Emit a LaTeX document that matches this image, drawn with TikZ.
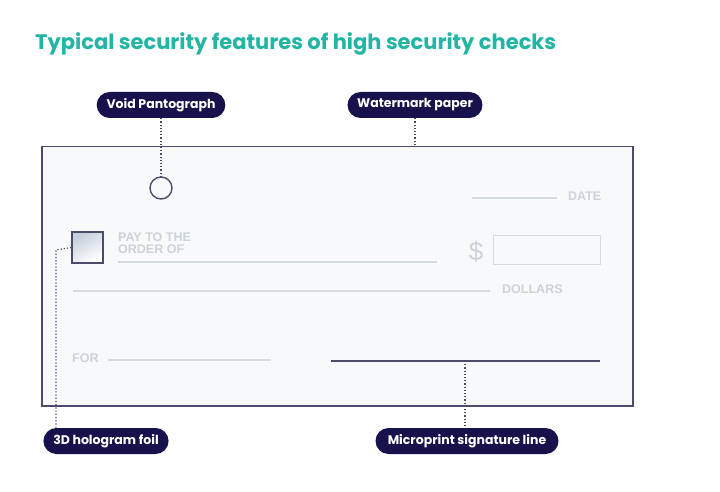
\documentclass[tikz,border=0pt]{standalone}
\usepackage{fontspec}
\setmainfont{Poppins}
\newfontfamily\checkfont{Liberation Sans}
\usetikzlibrary{positioning,calc,shapes.misc}
\definecolor{Teal}{HTML}{22B5A3}
\definecolor{Navy}{HTML}{17124C}
\definecolor{Frame}{HTML}{4B4C6B}
\definecolor{Paper}{HTML}{F7F9FB}
\definecolor{Faint}{HTML}{CCD3D8}
\definecolor{FaintLine}{HTML}{D5DCE0}
\definecolor{FoilTop}{HTML}{C3CEDC}
\tikzset{
  pill/.style={rounded rectangle,fill=Navy,text=white,font=\bfseries\fontsize{12.5}{14}\selectfont,minimum height=26pt,inner xsep=8pt,inner ysep=0pt},
  cheque/.style={draw=Frame,fill=Paper,line width=1.5pt,inner sep=0pt},
  leader/.style={draw=Frame,dotted,line width=1.2pt},
  faintline/.style={draw=FaintLine,line width=1.2pt},
  faintlabel/.style={text=Faint,font=\checkfont\bfseries\fontsize{12.5}{12}\selectfont,inner sep=0pt,align=left},
  feature/.style={draw=Frame,line width=1.4pt,inner sep=0pt}
}
\begin{document}
\begin{tikzpicture}[x=1pt,y=-1pt]
  \useasboundingbox[fill=white] (0,0) rectangle (720,492);
  \node[anchor=west,text=Teal,font=\bfseries\fontsize{21}{24}\selectfont,inner sep=0pt] (title) at (35,44) {Typical security features of high security checks};

  % the cheque
  \node[cheque,anchor=north west,minimum width=591pt,minimum height=259pt] (check) at (41,146) {};
  \coordinate (datel) at (472,198);
  \coordinate (dater) at (557,198);
  \draw[faintline] (datel) -- (dater);
  \node[faintlabel,anchor=west] (date) at (568,196) {DATE};
  \node[faintlabel,anchor=north west] (payto) at (118,233) {PAY TO THE\\ORDER OF};
  \draw[faintline] (118,262) -- (437,262);
  \node[text=Faint,font=\checkfont\fontsize{26}{28}\selectfont,inner sep=0pt] (dollar) at (476,252) {\$};
  \node[draw=FaintLine,line width=1.2pt,anchor=north west,minimum width=107pt,minimum height=29pt,inner sep=0pt] (amount) at (493,235) {};
  \draw[faintline] (73,291) -- (490,291);
  \node[faintlabel,anchor=west] (dollars) at (502,289) {DOLLARS};
  \node[faintlabel,anchor=west] (for) at (72,358) {FOR};
  \draw[faintline] (108,360) -- (271,360);
  \coordinate (sigl) at (331,361);
  \coordinate (sigr) at (600,361);
  \coordinate (sig) at (465,361);
  \draw[draw=Frame,line width=1.5pt] (sigl) -- (sigr);

  % features
  \node[feature,circle,minimum size=22pt] (pant) at (161,188) {};
  \node[feature,minimum size=31pt,top color=FoilTop,bottom color=white,shading angle=30] (foil) at (87.5,247.5) {};

  % labels
  \node[pill] (void) at (161,105) {Void Pantograph};
  \node[pill] (water) at (415,105) {Watermark paper};
  \node[pill] (holo) at (106,441) {3D hologram foil};
  \node[pill,minimum width=199pt] (micro) at (467,441) {Microprint signature line};

  \coordinate (bend) at (56,250);
  \draw[leader] (void.south) -- (pant.north);
  \draw[leader] (water.south) -- (water.south |- check.north);
  \draw[leader] (foil.west) -- (bend) -- (bend |- holo.north);
  \draw[leader] (sig) -- (sig |- micro.north);
\end{tikzpicture}
\end{document}
